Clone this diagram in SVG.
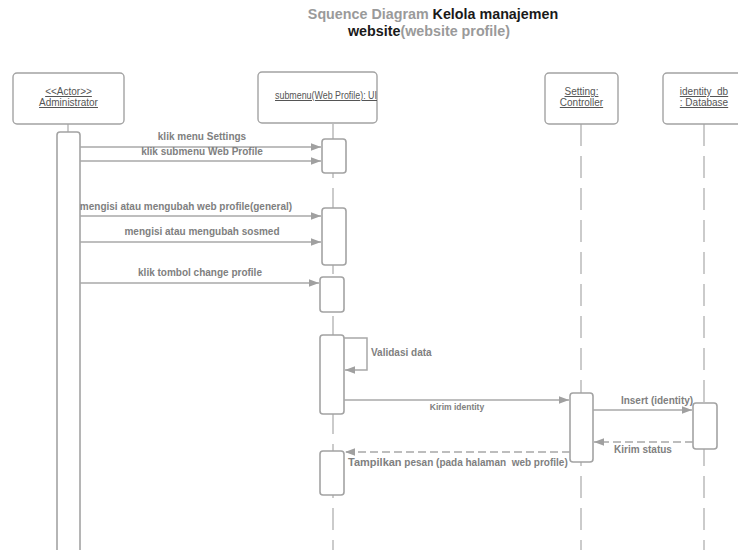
<svg xmlns="http://www.w3.org/2000/svg" width="738" height="550" viewBox="0 0 738 550">
  <style>
    .head { fill: #fff; stroke: #a3a3a3; stroke-width: 1.4; }
    .bar { fill: #fff; stroke: #a3a3a3; stroke-width: 1.6; }
    .life { fill: none; stroke: #b0b0b0; stroke-width: 1.3; stroke-dasharray: 22 10; }
    .solid { fill: none; stroke: #b0b0b0; stroke-width: 1.3; }
    .msg { fill: none; stroke: #a8a8a8; stroke-width: 1.5; }
    .ret { fill: none; stroke: #a8a8a8; stroke-width: 1.5; stroke-dasharray: 8 4; }
    .htxt { font-family: "Liberation Sans", Arial, sans-serif; font-size: 10px; fill: #555; text-decoration: underline; text-anchor: middle; }
    .lbl { font-family: "Liberation Sans", Arial, sans-serif; font-size: 10px; font-weight: bold; fill: #808080; text-anchor: middle; white-space: pre; }
    .lbl.start { text-anchor: start; }
    .lbl.small { font-size: 8.5px; }
    .title { font-family: "Liberation Sans", Arial, sans-serif; font-size: 14.3px; font-weight: bold; text-anchor: middle; }
  </style>
  <defs>
    <marker id="arrow" viewBox="0 0 10 10" refX="10" refY="5" markerWidth="10" markerHeight="10" markerUnits="userSpaceOnUse" orient="auto">
      <path d="M0,1.2 L10,5 L0,8.8 Z" fill="#a0a0a0"/>
    </marker>
  </defs>

  <rect width="738" height="550" fill="#fff"/>

  <!-- title -->
  <text class="title" x="433" y="19"><tspan fill="#9a9a9a">Squence Diagram </tspan><tspan fill="#1a1a1a">Kelola manajemen</tspan></text>
  <text class="title" x="429" y="36"><tspan fill="#1a1a1a">website</tspan><tspan fill="#9a9a9a">(website profile)</tspan></text>

  <!-- lifelines -->
  <g id="lifelines">
    <line class="solid" x1="68" y1="124" x2="68" y2="132"/>
    <line class="life" x1="333" y1="124" x2="333" y2="550"/>
    <line class="life" x1="581" y1="124" x2="581" y2="550"/>
    <line class="life" x1="704" y1="124" x2="704" y2="550"/>
  </g>

  <!-- participants -->
  <g id="administrator">
    <rect class="head" x="13" y="73" width="111" height="51" rx="4"/>
    <text class="htxt" x="68.5" y="95">&lt;&lt;Actor&gt;&gt;</text>
    <text class="htxt" x="68.5" y="106">Administrator</text>
    <rect class="bar" x="57" y="132" width="23" height="430" rx="3"/>
  </g>

  <g id="submenu-ui">
    <rect class="head" x="258" y="72" width="119" height="51" rx="4"/>
    <text class="htxt" x="326" y="99" textLength="102" lengthAdjust="spacingAndGlyphs">submenu(Web Profile): UI</text>
    <rect class="bar" x="322" y="139" width="24" height="34" rx="3"/>
    <rect class="bar" x="322" y="208" width="24" height="57" rx="3"/>
    <rect class="bar" x="320" y="277" width="24" height="35" rx="3"/>
    <rect class="bar" x="320" y="335" width="24" height="79" rx="3"/>
    <rect class="bar" x="320" y="451" width="24" height="44" rx="3"/>
  </g>

  <g id="setting-controller">
    <rect class="head" x="545" y="73" width="73" height="51" rx="4"/>
    <text class="htxt" x="581.5" y="95">Setting:</text>
    <text class="htxt" x="581.5" y="106">Controller</text>
    <rect class="bar" x="570" y="393" width="23" height="69" rx="3"/>
  </g>

  <g id="identity-db">
    <rect class="head" x="663" y="73" width="80" height="51" rx="4"/>
    <text class="htxt" x="704" y="95">identity_db</text>
    <text class="htxt" x="704" y="106">: Database</text>
    <rect class="bar" x="693" y="403" width="24" height="46" rx="3"/>
  </g>

  <!-- messages -->
  <g id="connectors">
    <line class="msg" x1="80" y1="147" x2="321" y2="147" marker-end="url(#arrow)"/>
    <line class="msg" x1="80" y1="161" x2="321" y2="161" marker-end="url(#arrow)"/>
    <line class="msg" x1="80" y1="216" x2="321" y2="216" marker-end="url(#arrow)"/>
    <line class="msg" x1="80" y1="242" x2="321" y2="242" marker-end="url(#arrow)"/>
    <line class="msg" x1="80" y1="283" x2="319" y2="283" marker-end="url(#arrow)"/>
    <path class="msg" d="M344,338 H367 V370 H345" marker-end="url(#arrow)"/>
    <line class="msg" x1="344" y1="400" x2="569" y2="400" marker-end="url(#arrow)"/>
    <line class="msg" x1="593" y1="410" x2="692" y2="410" marker-end="url(#arrow)"/>
    <line class="ret" x1="693" y1="442" x2="594" y2="442" marker-end="url(#arrow)"/>
    <line class="ret" x1="570" y1="452" x2="345" y2="452" marker-end="url(#arrow)"/>
  </g>

  <!-- message labels -->
  <g id="labels">
    <text class="lbl" x="202" y="140">klik menu Settings</text>
    <text class="lbl" x="202" y="155">klik submenu Web Profile</text>
    <text class="lbl" x="186" y="210">mengisi atau mengubah web profile(general)</text>
    <text class="lbl" x="202" y="235">mengisi atau mengubah sosmed</text>
    <text class="lbl" x="200" y="276">klik tombol change profile</text>
    <text class="lbl start" x="371" y="356">Validasi data</text>
    <text class="lbl small" x="457" y="410">Kirim identity</text>
    <text class="lbl" x="657" y="404">Insert (identity)</text>
    <text class="lbl" x="643" y="453">Kirim status</text>
    <text class="lbl start" x="348" y="466"><tspan style="font-size:11px">Tampilkan</tspan> pesan (pada halaman  web profile)</text>
  </g>
</svg>
